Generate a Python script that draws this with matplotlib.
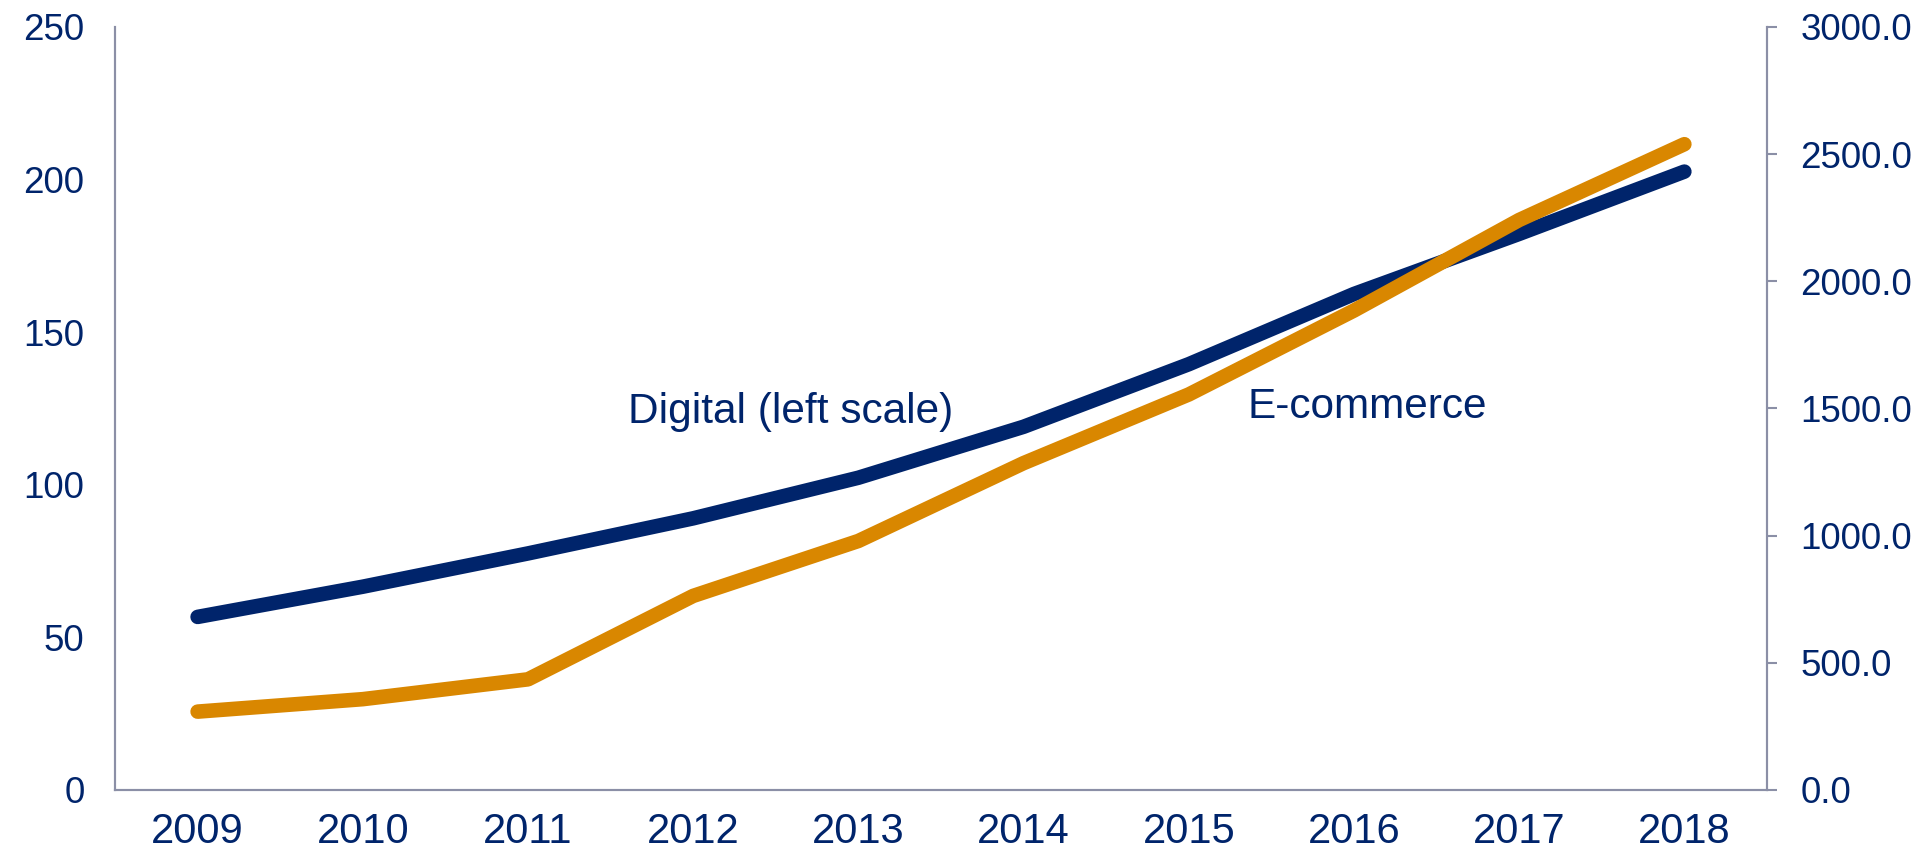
import matplotlib.pyplot as plt

years = ["2009", "2010", "2011", "2012", "2013", "2014", "2015", "2016", "2017", "2018"]
digital = [56.7, 66.6, 77.5, 89.0, 102.3, 119.0, 139.5, 162.5, 182.2, 202.6]
ecommerce = [308, 357, 435, 763, 979, 1285, 1555, 1885, 2241, 2539]

navy = "#00246b"
orange = "#d98700"
grey = "#8b8fa6"

plt.rcParams["font.family"] = ["Liberation Sans", "DejaVu Sans"]

fig = plt.figure(figsize=(19.33, 8.58), dpi=100)
ax = fig.add_axes([0.0595, 0.0793, 0.8546, 0.8893])
ax2 = ax.twinx()

x = list(range(len(years)))
ax.plot(x, digital, color=navy, lw=10.5, solid_capstyle="round")
ax2.plot(x, ecommerce, color=orange, lw=10.5, solid_capstyle="round")

ax.set_xlim(-0.5, len(years) - 0.5)
ax.set_ylim(0, 250)
ax2.set_ylim(0, 3000)
ax.set_yticks(range(0, 251, 50))
ax2.set_yticks(range(0, 3001, 500))
ax2.set_yticklabels([f"{v:.1f}" for v in range(0, 3001, 500)])
ax.set_xticks(x)
ax.set_xticklabels(years, fontsize=30)

for a in (ax, ax2):
    for s in a.spines.values():
        s.set_color(grey)
        s.set_linewidth(1.5)
    a.spines["top"].set_visible(False)

ax.tick_params(axis="y", length=0, pad=22, labelsize=26.5, labelcolor=navy)
ax.tick_params(axis="x", length=0, pad=16, labelcolor=navy)
ax2.tick_params(axis="y", length=7, width=1.5, color=grey, pad=17, labelsize=26.5, labelcolor=navy)

ax.text(3.59, 124, "Digital (left scale)", color=navy, fontsize=30.5, ha="center", va="center")
ax2.text(7.08, 1505, "E-commerce", color=navy, fontsize=30.5, ha="center", va="center")

fig.savefig("out.png", dpi=100)
